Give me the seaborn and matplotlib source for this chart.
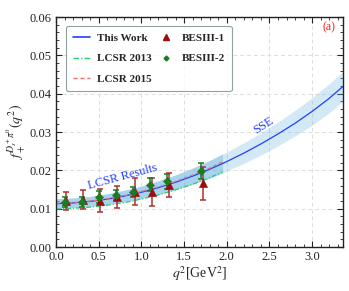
import numpy as np
import pandas as pd
import seaborn as sns
import matplotlib
matplotlib.use("Agg")
import matplotlib.pyplot as plt
from matplotlib.ticker import MultipleLocator
from matplotlib.lines import Line2D

# ---- data ----
q2_sse = [0.0, 0.2, 0.4, 0.6, 0.8, 1.0, 1.2, 1.4, 1.6, 1.8, 2.0, 2.2, 2.4, 2.6, 2.8, 3.0, 3.2, 3.36]
f_sse = [0.0113, 0.0115, 0.0119, 0.0125, 0.0133, 0.0143, 0.0155, 0.0169, 0.0185, 0.0203,
         0.0223, 0.0245, 0.0269, 0.0295, 0.0323, 0.0354, 0.0388, 0.0419]
f_sse_lo = [0.0101, 0.0103, 0.0106, 0.0111, 0.0118, 0.0127, 0.0137, 0.0150, 0.0164, 0.0180,
            0.0198, 0.0218, 0.0240, 0.0264, 0.0290, 0.0318, 0.0350, 0.0380]
f_sse_hi = [0.0126, 0.0128, 0.0132, 0.0139, 0.0148, 0.0159, 0.0173, 0.0188, 0.0206, 0.0226,
            0.0248, 0.0272, 0.0298, 0.0326, 0.0357, 0.0390, 0.0426, 0.0458]

q2_lcsr = [0.0, 0.2, 0.4, 0.6, 0.8, 1.0, 1.2, 1.4, 1.6, 1.8, 1.95]
f_lcsr_lo = [0.0101, 0.0103, 0.0106, 0.0111, 0.0118, 0.0127, 0.0137, 0.0150, 0.0164, 0.0180, 0.0193]
f_lcsr_hi = [0.0126, 0.0128, 0.0132, 0.0139, 0.0148, 0.0159, 0.0173, 0.0188, 0.0206, 0.0226, 0.0243]
f_lcsr2013 = [0.0099, 0.0101, 0.0104, 0.0109, 0.0116, 0.0125, 0.0136, 0.0149, 0.0164, 0.0181, 0.0196]
f_lcsr2015 = [0.0114, 0.0116, 0.0120, 0.0126, 0.0134, 0.0145, 0.0157, 0.0171, 0.0188, 0.0206, 0.0222]

q2_bes = [0.1, 0.3, 0.5, 0.7, 0.9, 1.1, 1.3, 1.7]
f_bes1 = [0.0120, 0.0123, 0.0121, 0.0131, 0.0144, 0.0144, 0.0162, 0.0166]
err_bes1 = [0.0024, 0.0025, 0.0030, 0.0028, 0.0035, 0.0036, 0.0032, 0.0044]
f_bes2 = [0.0117, 0.0118, 0.0130, 0.0136, 0.0144, 0.0163, 0.0171, 0.0198]
err_bes2 = [0.0013, 0.0013, 0.0015, 0.0013, 0.0013, 0.0017, 0.0020, 0.0020]

# ---- style ----
sns.set_theme(style="ticks")
plt.rcParams["font.family"] = ["Liberation Serif", "DejaVu Serif"]
plt.rcParams["mathtext.fontset"] = "stix"

fig = plt.figure(figsize=(3.49, 2.91), dpi=100)
ax = fig.add_axes([0.1605, 0.1512, 0.822, 0.790])

band_col = "#73b9e4"
blue = "#2040ff"
green = "#2ecc71"
red = "#f07070"
dred = "#9a0e0e"
dgreen = "#1e7a1e"

ax.fill_between(q2_sse, f_sse_lo, f_sse_hi, color=band_col, alpha=0.3, lw=0)
ax.fill_between(q2_lcsr, f_lcsr_lo, f_lcsr_hi, color=band_col, alpha=0.45, lw=0)

df_sse = pd.DataFrame({"q2": q2_sse, "f": f_sse})
df_lcsr = pd.DataFrame({"q2": q2_lcsr, "a": f_lcsr2013, "b": f_lcsr2015})
sns.lineplot(data=df_sse, x="q2", y="f", ax=ax, color=blue, lw=0.9, sort=False)
sns.lineplot(data=df_lcsr, x="q2", y="a", ax=ax, color=green, lw=0.9, sort=False,
             linestyle=(0, (4, 1.5, 1, 1.5)))
sns.lineplot(data=df_lcsr, x="q2", y="b", ax=ax, color=red, lw=0.9, sort=False,
             linestyle=(0, (3, 2)))

x1 = np.array(q2_bes) + 0.02
x2 = np.array(q2_bes)
ax.errorbar(x1, f_bes1, yerr=err_bes1, fmt="none", ecolor="#b03030", elinewidth=1.1,
            capsize=2.5, capthick=1.1, zorder=3)
ax.errorbar(x2, f_bes2, yerr=err_bes2, fmt="none", ecolor=dgreen, elinewidth=1.1,
            capsize=2.5, capthick=1.1, zorder=4)
sns.scatterplot(x=x1, y=f_bes1, ax=ax, marker="^", color=dred, s=36, edgecolor=dred,
                linewidth=0.3, zorder=5)
sns.scatterplot(x=x2, y=f_bes2, ax=ax, marker="D", color=dgreen, s=18, edgecolor=dgreen,
                linewidth=0.3, zorder=6)

ax.set_xlim(0, 3.36)
ax.set_ylim(0, 0.06)
ax.xaxis.set_major_locator(MultipleLocator(0.5))
ax.xaxis.set_minor_locator(MultipleLocator(0.1))
ax.yaxis.set_major_locator(MultipleLocator(0.01))
ax.yaxis.set_minor_locator(MultipleLocator(0.002))
ax.xaxis.set_major_formatter(matplotlib.ticker.FormatStrFormatter("%.1f"))
ax.yaxis.set_major_formatter(matplotlib.ticker.FormatStrFormatter("%.2f"))
ax.tick_params(which="both", direction="in", top=True, right=True, labelsize=9,
               colors="#222222", pad=3)
ax.tick_params(which="major", length=4, width=0.8)
ax.tick_params(which="minor", length=2, width=0.6)
for s in ax.spines.values():
    s.set_linewidth(1.0)
    s.set_color("#222222")
ax.grid(True, which="major", linestyle=(0, (4, 3)), color="#dddddd", lw=0.7)

ax.set_xlabel(r"$q^2$[GeV$^2$]", fontsize=10, labelpad=1)
ax.set_ylabel(r"$f_+^{D_s^+\pi^0}(q^2)$", fontsize=10, labelpad=2)

ax.text(0.78, 0.0183, "LCSR Results", color=blue, fontsize=9, rotation=15,
        ha="center", va="center", rotation_mode="anchor")
ax.text(2.43, 0.0318, "SSE", color=blue, fontsize=9, rotation=33,
        ha="center", va="center", rotation_mode="anchor")
ax.text(3.2, 0.0574, "(a)", color="#ff1a1a", fontsize=8.5, ha="center", va="center")

handles = [
    Line2D([], [], color=blue, lw=1.2),
    Line2D([], [], color=green, lw=1.0, linestyle=(0, (4, 1.5, 1, 1.5))),
    Line2D([], [], color=red, lw=1.0, linestyle=(0, (3, 2))),
    Line2D([], [], color=dred, marker="^", ls="none", markersize=4),
    Line2D([], [], color=dgreen, marker="D", ls="none", markersize=2.5),
]
labels = ["This Work", "LCSR 2013", "LCSR 2015", "BESIII-1", "BESIII-2"]
leg = ax.legend(handles, labels, ncol=2, loc="upper left", bbox_to_anchor=(0.015, 0.985),
                frameon=True, fancybox=True, handlelength=1.6,
                handletextpad=0.6, columnspacing=0.5, labelspacing=1.0,
                borderpad=0.6, prop={"weight": "bold", "size": 8})
leg.get_frame().set_edgecolor("#7a8a8a")
leg.get_frame().set_linewidth(0.8)

fig.savefig("out.png", dpi=100)
